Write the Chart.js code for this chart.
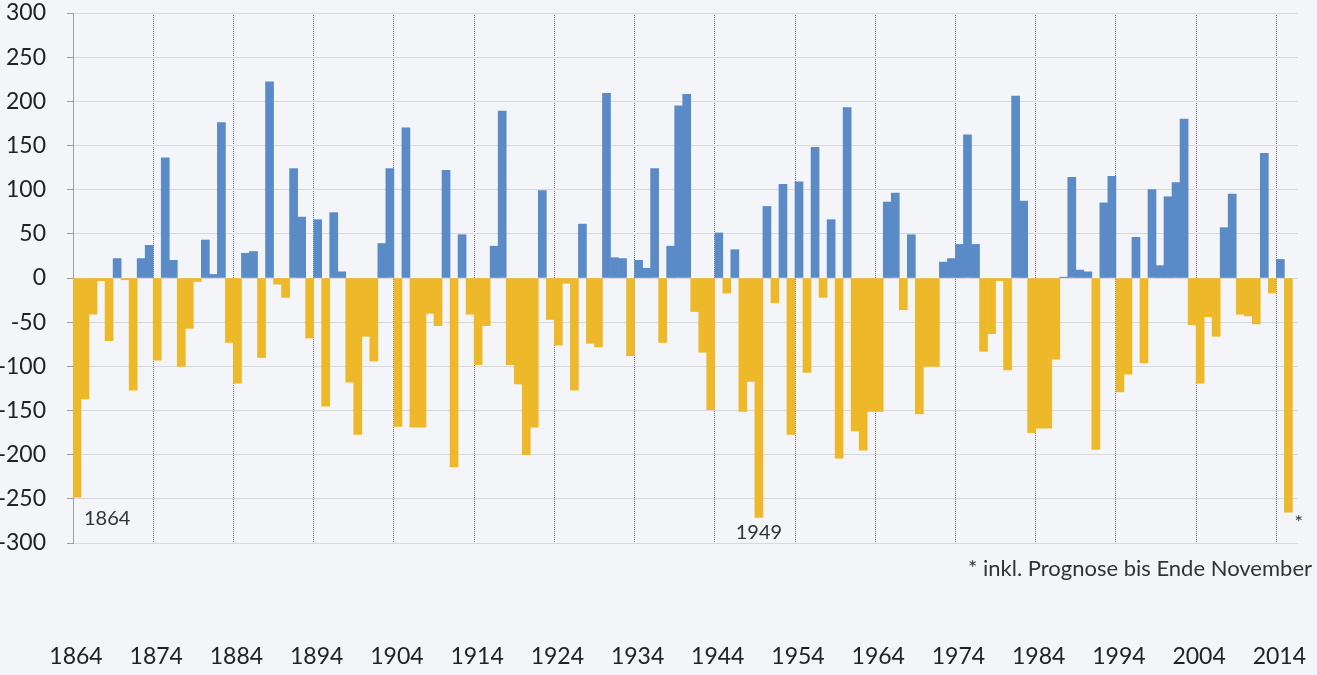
<!DOCTYPE html>
<html><head><meta charset="utf-8">
<script src="https://cdn.jsdelivr.net/npm/chart.js@4.4.1/dist/chart.umd.min.js"></script>
<style>
html,body{margin:0;padding:0;background:#f4f5f9;}
canvas{display:block;}
</style></head><body>
<canvas id="c" width="1317" height="675"></canvas>
<script>
// ---- data ----
const years = [
 1864,1865,1866,1867,1868,1869,1870,1871,1872,1873,
 1874,1875,1876,1877,1878,1879,1880,1881,1882,1883,
 1884,1885,1886,1887,1888,1889,1890,1891,1892,1893,
 1894,1895,1896,1897,1898,1899,1900,1901,1902,1903,
 1904,1905,1906,1907,1908,1909,1910,1911,1912,1913,
 1914,1915,1916,1917,1918,1919,1920,1921,1922,1923,
 1924,1925,1926,1927,1928,1929,1930,1931,1932,1933,
 1934,1935,1936,1937,1938,1939,1940,1941,1942,1943,
 1944,1945,1946,1947,1948,1949,1950,1951,1952,1953,
 1954,1955,1956,1957,1958,1959,1960,1961,1962,1963,
 1964,1965,1966,1967,1968,1969,1970,1971,1972,1973,
 1974,1975,1976,1977,1978,1979,1980,1981,1982,1983,
 1984,1985,1986,1987,1988,1989,1990,1991,1992,1993,
 1994,1995,1996,1997,1998,1999,2000,2001,2002,2003,
 2004,2005,2006,2007,2008,2009,2010,2011,2012,2013,
 2014,2015
];
const values = [
 -248,-137,-41,-3,-71,22,-2,-127,22,37,
 -93,136,20,-100,-57,-4,43,4,176,-73,
 -119,28,30,-90,222,-7,-22,124,69,-68,
 66,-145,74,7,-118,-177,-66,-94,39,124,
 -168,170,-169,-169,-40,-54,122,-214,49,-41,
 -98,-54,36,189,-98,-120,-200,-169,99,-47,
 -76,-6,-127,61,-74,-78,209,23,22,-88,
 20,11,124,-73,36,195,208,-38,-84,-149,
 51,-17,32,-151,-117,-271,81,-28,106,-177,
 109,-107,148,-22,66,-204,193,-173,-195,-151,
 -151,86,96,-36,49,-154,-100,-100,18,22,
 38,162,38,-83,-63,-3,-104,206,87,-175,
 -170,-170,-92,1,114,9,7,-194,85,115,
 -129,-109,46,-96,100,14,92,108,180,-53,
 -119,-44,-66,57,95,-41,-43,-52,141,-17,
 21,-265
];
const tickYears = [1864,1874,1884,1894,1904,1914,1924,1934,1944,1954,1964,1974,1984,1994,2004,2014];
const yTicks = [-300,-250,-200,-150,-100,-50,0,50,100,150,200,250,300];
const markedYears = ['1864','1949'];
const starYear = 2015;
const footnote = '* inkl. Prognose bis Ende November';

// ---- styles ----
const BLUE = '#5a8bc6';
const GOLD = '#edb829';
const FONT = 'Lato';

const firstYear = years[0];
const points = years.map((yr, i) => ({ x: yr - firstYear + 0.5, y: values[i] }));

const annotate = {
  id: 'annotate',
  afterDraw(chart) {
    const { ctx, chartArea, scales } = chart;
    const xs = scales.x, ys = scales.y;
    ctx.save();
    ctx.fillStyle = '#333';
    ctx.font = '20px ' + FONT;
    ctx.textBaseline = 'middle';
    const i0 = years.indexOf(+markedYears[0]);
    ctx.textAlign = 'left';
    ctx.fillText(markedYears[0], xs.getPixelForValue(i0 + 1) + 3, chartArea.bottom - 24);
    const i1 = years.indexOf(+markedYears[1]);
    ctx.textAlign = 'center';
    ctx.fillText(markedYears[1], xs.getPixelForValue(i1 + 0.5), chartArea.bottom - 10);
    const is = years.indexOf(starYear);
    ctx.font = '20px ' + FONT;
    ctx.textAlign = 'left';
    ctx.fillText('*', xs.getPixelForValue(is + 1) + 2, ys.getPixelForValue(values[is]) + 10);
    ctx.font = '22px ' + FONT;
    ctx.textAlign = 'right';
    ctx.fillText(footnote, 1312, chartArea.bottom + 26);
    ctx.restore();
  }
};

const bg = {
  id: 'bg',
  beforeDraw(chart) {
    const c = chart.ctx;
    c.save();
    c.fillStyle = '#f4f5f9';
    c.fillRect(0, 0, chart.width, chart.height);
    c.restore();
  }
};

new Chart(document.getElementById('c'), {
  type: 'bar',
  data: {
    datasets: [{
      data: points,
      backgroundColor: (c) => (c.raw && c.raw.y >= 0 ? BLUE : GOLD),
      borderWidth: 0,
      barPercentage: 1,
      categoryPercentage: 1
    }]
  },
  options: {
    responsive: false,
    animation: false,
    layout: { padding: { top: 13, right: 19, bottom: 4, left: 0 } },
    plugins: { legend: { display: false }, tooltip: { enabled: false } },
    scales: {
      x: {
        type: 'linear',
        min: 0,
        max: 152.7,
        offset: false,
        afterBuildTicks: (s) => { s.ticks = tickYears.map(y => ({ value: y - firstYear })); },
        afterFit: (s) => { s.height = 128; s.paddingLeft = 0; s.paddingRight = 0; },
        ticks: {
          autoSkip: false, maxRotation: 0, includeBounds: false,
          padding: 100, labelOffset: 3, color: '#222',
          font: { family: FONT, size: 23 },
          callback: (v) => String(firstYear + v)
        },
        grid: { offset: false, color: '#6e6e6e', lineWidth: 1, drawTicks: false },
        border: { display: false, dash: [1, 1] }
      },
      y: {
        min: -300, max: 300,
        afterBuildTicks: (s) => { s.ticks = yTicks.map(v => ({ value: v })); },
        afterFit: (s) => { s.width = 73; s.paddingTop = 0; s.paddingBottom = 0; },
        ticks: { padding: 21, color: '#222', font: { family: FONT, size: 23 } },
        grid: { color: '#d8d8dd', tickColor: '#a0a0a0', tickLength: 6 },
        border: { color: '#a0a0a0' }
      }
    }
  },
  plugins: [bg, annotate]
});
</script>
</body></html>
